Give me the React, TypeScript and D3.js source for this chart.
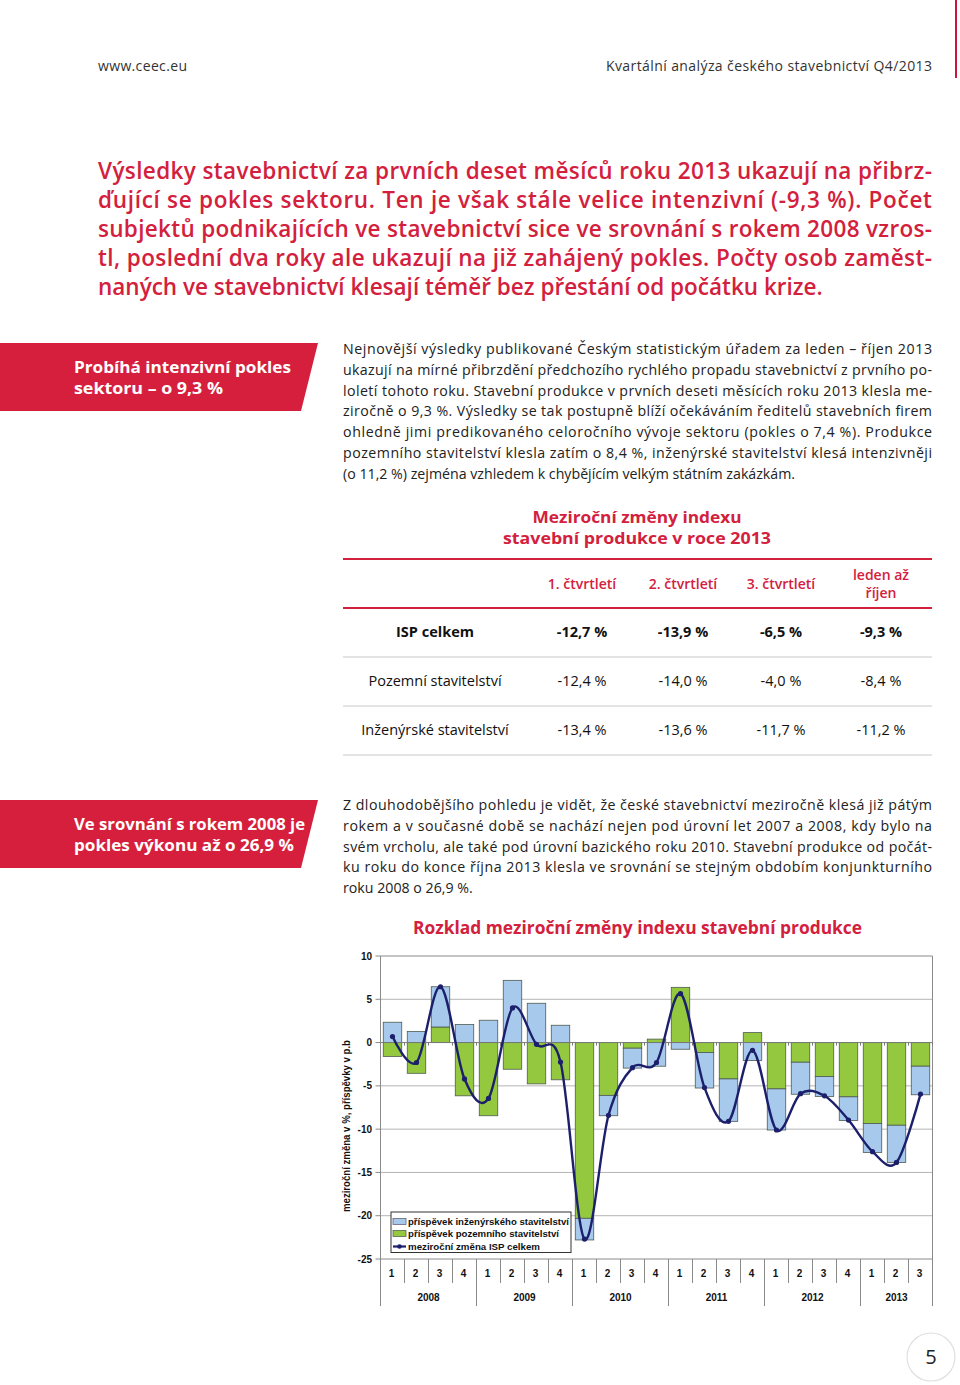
import React from "react";
import * as d3 from "d3";

// ---------- DATA ----------
const quarterLabels = ["1","2","3","4","1","2","3","4","1","2","3","4","1","2","3","4","1","2","3","4","1","2","3"];
const years = ["2008","2009","2010","2011","2012","2013"];
const quartersPerYear = [4,4,4,4,4,3];
// příspěvek pozemního stavitelství (green)
const buildContrib = [-1.6,-3.55,1.8,-6.15,-8.45,-3.08,-4.77,-4.3,-20.3,-6.1,-0.65,0.4,6.38,-1.15,-4.2,1.15,-5.35,-2.27,-3.92,-6.27,-9.35,-9.55,-2.73];
// příspěvek inženýrského stavitelství (blue)
const engContrib = [2.35,1.27,4.65,2.08,2.58,7.19,4.54,2.0,-2.5,-2.35,-2.3,-2.73,-0.77,-4.1,-4.9,-2.08,-4.75,-3.7,-2.3,-2.73,-3.35,-4.3,-3.3];
// meziroční změna ISP celkem (line)
const totalChange = [0.7,-2.3,6.45,-4.2,-6.45,4.0,-0.2,-2.25,-22.7,-8.4,-2.9,-2.3,5.65,-5.2,-9.1,-0.9,-10.1,-5.9,-6.15,-8.95,-12.6,-13.85,-5.95];
const yTicks = [10,5,0,-5,-10,-15,-20,-25];

const tableCols = ["1. čtvrtletí","2. čtvrtletí","3. čtvrtletí"];
const tableRows = ["ISP celkem","Pozemní stavitelství","Inženýrské stavitelství"];
const tableValues = [
  ["-12,7 %","-13,9 %","-6,5 %","-9,3 %"],
  ["-12,4 %","-14,0 %","-4,0 %","-8,4 %"],
  ["-13,4 %","-13,6 %","-11,7 %","-11,2 %"],
];

const headline = [
  "Výsledky stavebnictví za prvních deset měsíců roku 2013 ukazují na přibrz-",
  "ďující se pokles sektoru. Ten je však stále velice intenzivní (-9,3 %). Počet",
  "subjektů podnikajících ve stavebnictví sice ve srovnání s rokem 2008 vzros-",
  "tl, poslední dva roky ale ukazují na již zahájený pokles. Počty osob zaměst-",
  "naných ve stavebnictví klesají téměř bez přestání od počátku krize.",
];
const para1 = [
  "Nejnovější výsledky publikované Českým statistickým úřadem za leden – říjen 2013",
  "ukazují na mírné přibrzdění předchozího rychlého propadu stavebnictví z prvního po-",
  "loletí tohoto roku. Stavební produkce v prvních deseti měsících roku 2013 klesla me-",
  "ziročně o 9,3 %. Výsledky se tak postupně blíží očekáváním ředitelů stavebních firem",
  "ohledně jimi predikovaného celoročního vývoje sektoru (pokles o 7,4 %). Produkce",
  "pozemního stavitelství klesla zatím o 8,4 %, inženýrské stavitelství klesá intenzivněji",
  "(o 11,2 %) zejména vzhledem k chybějícím velkým státním zakázkám.",
];
const para2 = [
  "Z dlouhodobějšího pohledu je vidět, že české stavebnictví meziročně klesá již pátým",
  "rokem a v současné době se nachází nejen pod úrovní let 2007 a 2008, kdy bylo na",
  "svém vrcholu, ale také pod úrovní bazického roku 2010. Stavební produkce od počát-",
  "ku roku do konce října 2013 klesla ve srovnání se stejným obdobím konjunkturního",
  "roku 2008 o 26,9 %.",
];

const RED = "#d3203d";
const BODY_FONT = "'Open Sans', sans-serif";
const CHART_FONT = "'Liberation Sans', Arial, sans-serif";
const BLUE = "#a6c9ec";
const GREEN = "#93c83f";
const NAVY = "#1c1f6b";

function Para({ lines, x, y0, lh, width, size, fill, weight, family }: any) {
  return (
    <g>
      {lines.map((l: string, i: number) => (
        <text key={i} x={x} y={y0 + i * lh} fontSize={size} fill={fill} fontWeight={weight}
          fontFamily={family}
          {...(i < lines.length - 1 ? { textLength: width, lengthAdjust: "spacing" } : {})}>
          {l}
        </text>
      ))}
    </g>
  );
}

export default function App() {
  const idx = quarterLabels.map((_, i) => i);
  const x = d3.scaleBand<number>().domain(idx).range([380.5, 932.5]).paddingInner(0.23).paddingOuter(0.115);
  const y = d3.scaleLinear().domain([-25, 10]).range([1259, 956]);
  const step = x.step();
  const left = 380.5, right = 932.5;

  const rows = idx.map(i => ({ build: buildContrib[i], eng: engContrib[i] }));
  const stack = d3.stack<any>().keys(["build", "eng"]).offset(d3.stackOffsetDiverging)(rows);
  const colors: any = { build: GREEN, eng: BLUE };

  const line = d3.line<number>()
    .x((_, i) => (x(i) as number) + x.bandwidth() / 2)
    .y(d => y(d))
    .curve(d3.curveCardinal.tension(0));

  const yearStarts: number[] = [];
  let acc = 0;
  quartersPerYear.forEach(c => { yearStarts.push(acc); acc += c; });

  const tableX = [582, 683, 781, 881];

  return (
    <svg width={960} height={1385} style={{ position: "absolute", left: 0, top: 0, background: "#fff" }}>
      {/* header */}
      <text x={98} y={71} fontSize={14} fill="#333" fontFamily={BODY_FONT} textLength={89} lengthAdjust="spacing">www.ceec.eu</text>
      <text x={606} y={71} fontSize={14} fill="#333" fontFamily={BODY_FONT} textLength={326} lengthAdjust="spacing">Kvartální analýza českého stavebnictví Q4/2013</text>
      <line x1={956} x2={956} y1={0} y2={78} stroke="#c8173a" strokeWidth={2} />

      {/* headline */}
      <Para lines={headline} x={98} y0={179} lh={29} width={834} size={22.5} fill={RED} weight={600} family={BODY_FONT} />

      {/* banner 1 */}
      <polygon points="0,343 318,343 301,411 0,411" fill="#d61f3c" />
      <text x={74} y={373} fontSize={16.5} fontWeight={700} fill="#fff" fontFamily={BODY_FONT} textLength={217} lengthAdjust="spacingAndGlyphs">Probíhá intenzivní pokles</text>
      <text x={74} y={394} fontSize={16.5} fontWeight={700} fill="#fff" fontFamily={BODY_FONT} textLength={149} lengthAdjust="spacingAndGlyphs">sektoru – o 9,3 %</text>

      <Para lines={para1} x={343} y0={354} lh={20.8} width={589} size={14.2} fill="#222" weight={400} family={BODY_FONT} />

      {/* table */}
      <text x={637} y={523} textAnchor="middle" fontSize={16.5} fontWeight={700} fill={RED} fontFamily={BODY_FONT} textLength={209} lengthAdjust="spacingAndGlyphs">Meziroční změny indexu</text>
      <text x={637} y={544} textAnchor="middle" fontSize={16.5} fontWeight={700} fill={RED} fontFamily={BODY_FONT} textLength={268} lengthAdjust="spacingAndGlyphs">stavební produkce v roce 2013</text>
      <line x1={343} x2={932} y1={559} y2={559} stroke={RED} strokeWidth={2} />
      <line x1={343} x2={932} y1={608} y2={608} stroke={RED} strokeWidth={2} />
      {tableCols.map((c, i) => (
        <text key={c} x={tableX[i]} y={589} textAnchor="middle" fontSize={14} fontWeight={600} fill={RED} fontFamily={BODY_FONT}>{c}</text>
      ))}
      <text x={tableX[3]} y={580} textAnchor="middle" fontSize={14} fontWeight={600} fill={RED} fontFamily={BODY_FONT}>leden až</text>
      <text x={tableX[3]} y={598} textAnchor="middle" fontSize={14} fontWeight={600} fill={RED} fontFamily={BODY_FONT}>říjen</text>
      {tableRows.map((r, ri) => (
        <g key={r}>
          <text x={435} y={637 + ri * 49} textAnchor="middle" fontSize={14.5} fontWeight={ri === 0 ? 700 : 400} fill="#111" fontFamily={BODY_FONT}>{r}</text>
          {tableValues[ri].map((v, ci) => (
            <text key={ci} x={tableX[ci]} y={637 + ri * 49} textAnchor="middle" fontSize={14.5} fontWeight={ri === 0 ? 700 : 400} fill="#111" fontFamily={BODY_FONT}>{v}</text>
          ))}
          <line x1={343} x2={932} y1={657 + ri * 49} y2={657 + ri * 49} stroke="#c8c8c8" strokeWidth={1} />
        </g>
      ))}

      {/* banner 2 */}
      <polygon points="0,800 318,800 301,868 0,868" fill="#d61f3c" />
      <text x={74} y={830} fontSize={16.5} fontWeight={700} fill="#fff" fontFamily={BODY_FONT} textLength={231} lengthAdjust="spacingAndGlyphs">Ve srovnání s rokem 2008 je</text>
      <text x={74} y={851} fontSize={16.5} fontWeight={700} fill="#fff" fontFamily={BODY_FONT} textLength={220} lengthAdjust="spacingAndGlyphs">pokles výkonu až o 26,9 %</text>

      <Para lines={para2} x={343} y0={810} lh={20.8} width={589} size={14.2} fill="#222" weight={400} family={BODY_FONT} />

      {/* chart title */}
      <text x={637.5} y={934} textAnchor="middle" fontSize={17} fontWeight={700} fill={RED} fontFamily={BODY_FONT} textLength={449} lengthAdjust="spacingAndGlyphs">Rozklad meziroční změny indexu stavební produkce</text>

      {/* gridlines */}
      {yTicks.filter(t => t !== 0 && t !== 10 && t !== -25).map(t => (
        <line key={t} x1={left} x2={right} y1={y(t)} y2={y(t)} stroke="#b4b4b4" strokeWidth={1} />
      ))}
      {/* frame */}
      <line x1={left} x2={right} y1={y(10)} y2={y(10)} stroke="#8a8a8a" strokeWidth={1} />
      <line x1={right} x2={right} y1={y(10)} y2={1306} stroke="#8a8a8a" strokeWidth={1} />
      <line x1={left} x2={right} y1={y(-25)} y2={y(-25)} stroke="#8a8a8a" strokeWidth={1} />
      <line x1={left} x2={left} y1={y(10)} y2={1306} stroke="#8a8a8a" strokeWidth={1} />

      {/* y ticks */}
      {yTicks.map(t => (
        <g key={t}>
          <line x1={left - 5} x2={left} y1={y(t)} y2={y(t)} stroke="#8a8a8a" />
          <text x={372} y={y(t) + 3.5} textAnchor="end" fontSize={10} fontWeight={700} fill="#111" fontFamily={CHART_FONT}>{t}</text>
        </g>
      ))}
      <text transform={`translate(350,1126) rotate(-90)`} textAnchor="middle" fontSize={10} fontWeight={700} fill="#111" fontFamily={CHART_FONT} textLength={172} lengthAdjust="spacingAndGlyphs">meziroční změna v %, příspěvky v p.b</text>

      {/* bars */}
      {stack.map(s => (
        <g key={s.key}>
          {s.map((d: any, i: number) => (
            <rect key={i} x={x(i)} width={x.bandwidth()} y={y(Math.max(d[0], d[1]))}
              height={Math.abs(y(d[0]) - y(d[1]))} fill={colors[s.key]} stroke="#4f5a4f" strokeWidth={0.8} />
          ))}
        </g>
      ))}

      {/* zero axis */}
      <line x1={left} x2={right} y1={y(0)} y2={y(0)} stroke="#7a7a7a" strokeWidth={1} />
      {idx.map(i => (
        <line key={i} x1={left + (i + 1) * step} x2={left + (i + 1) * step} y1={y(0)} y2={y(0) + 3} stroke="#7a7a7a" />
      ))}

      {/* line */}
      <path d={line(totalChange) as string} fill="none" stroke={NAVY} strokeWidth={2.4} />
      {totalChange.map((v, i) => (
        <circle key={i} cx={(x(i) as number) + x.bandwidth() / 2} cy={y(v)} r={2.6} fill={NAVY} />
      ))}

      {/* category axis */}
      {idx.map(i => (
        <g key={i}>
          <text x={(x(i) as number) + x.bandwidth() / 2 - 1} y={1277} textAnchor="middle" fontSize={10} fontWeight={700} fill="#111" fontFamily={CHART_FONT}>{quarterLabels[i]}</text>
          {i > 0 && <line x1={left + i * step} x2={left + i * step} y1={y(-25)} y2={yearStarts.includes(i) ? 1306 : 1283} stroke="#8a8a8a" />}
        </g>
      ))}
      {years.map((yr, yi) => (
        <text key={yr} x={left + (yearStarts[yi] + quartersPerYear[yi] / 2) * step} y={1301} textAnchor="middle" fontSize={10} fontWeight={700} fill="#111" fontFamily={CHART_FONT}>{yr}</text>
      ))}

      {/* legend */}
      <rect x={391} y={1212} width={180} height={40.5} fill="#fff" stroke="#333" strokeWidth={1} />
      <rect x={393} y={1218.5} width={13} height={6} fill={BLUE} stroke="#667" strokeWidth={0.8} />
      <text x={408} y={1225} fontSize={9.5} fontWeight={700} fill="#111" fontFamily={CHART_FONT} textLength={161} lengthAdjust="spacingAndGlyphs">příspěvek inženýrského stavitelství</text>
      <rect x={393} y={1230.5} width={13} height={6} fill={GREEN} stroke="#565" strokeWidth={0.8} />
      <text x={408} y={1237} fontSize={9.5} fontWeight={700} fill="#111" fontFamily={CHART_FONT} textLength={151} lengthAdjust="spacingAndGlyphs">příspěvek pozemního stavitelství</text>
      <line x1={393} x2={406} y1={1246.5} y2={1246.5} stroke={NAVY} strokeWidth={2.2} />
      <circle cx={399.5} cy={1246.5} r={2.3} fill={NAVY} />
      <text x={408} y={1250} fontSize={9.5} fontWeight={700} fill="#111" fontFamily={CHART_FONT} textLength={132} lengthAdjust="spacingAndGlyphs">meziroční změna ISP celkem</text>

      {/* page number */}
      <circle cx={931} cy={1357} r={24} fill="#fff" stroke="#e0e0e0" strokeWidth={1.2} />
      <text x={931} y={1364} textAnchor="middle" fontSize={20} fill="#222" fontFamily={BODY_FONT}>5</text>
    </svg>
  );
}
